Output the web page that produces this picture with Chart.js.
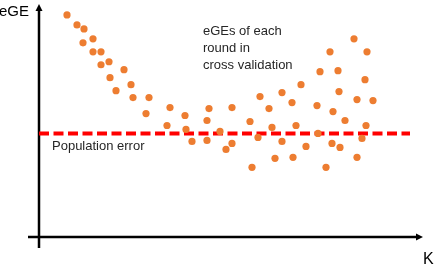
<!DOCTYPE html>
<html>
<head>
<meta charset="utf-8">
<script src="https://cdn.jsdelivr.net/npm/chart.js@4/dist/chart.umd.min.js"></script>
<style>
  html, body { margin: 0; padding: 0; background: #fff; }
  canvas { display: block; }
</style>
</head>
<body>
<canvas id="egeChart" width="436" height="268"></canvas>
<script>
// eGE of each cross-validation round (arbitrary units)
const kValues = [28, 38, 45, 54, 44, 54, 62, 70, 62, 85, 71, 92, 77, 94, 110, 107, 131, 128, 146, 147,
    153, 170, 168, 168, 181, 193, 193, 187, 211, 213, 219, 221, 230, 233, 236, 243, 243, 253, 254, 257,
    262, 267, 278, 279, 281, 287, 291, 293, 294, 299, 300, 301, 306, 315, 318, 318, 323, 326, 327, 328, 334];
const egeValues = [223, 213, 209, 199, 195, 186, 186, 176, 173, 168, 160, 153, 147, 140, 140, 124, 130, 112, 122, 108,
    96, 129, 117, 97, 106, 130, 94, 88, 116, 70, 100, 141, 129, 110, 79, 145, 96, 135, 80, 112,
    153, 91, 132, 104, 166, 70, 186, 94, 126, 167, 146, 90, 117, 199, 138, 80, 99, 158, 112, 186, 137];
const populationError = 104;
const lineRange = [0, 371];

const scatterPoints = kValues.map((k, i) => ({ x: k, y: egeValues[i] }));
const errorLine = lineRange.map(k => ({ x: k, y: populationError }));

// axes with arrow heads, drawn from the chart area
const axesPlugin = {
    id: 'axes',
    beforeDatasetsDraw(chart) {
        const ctx = chart.ctx;
        const a = chart.chartArea;
        ctx.save();
        ctx.strokeStyle = '#000';
        ctx.fillStyle = '#000';
        ctx.lineWidth = 2.5;
        // y axis
        ctx.beginPath();
        ctx.moveTo(a.left, a.bottom + 11);
        ctx.lineTo(a.left, a.top + 5);
        ctx.stroke();
        ctx.beginPath();
        ctx.moveTo(a.left, a.top);
        ctx.lineTo(a.left - 3.5, a.top + 7);
        ctx.lineTo(a.left + 3.5, a.top + 7);
        ctx.closePath();
        ctx.fill();
        // x axis
        ctx.beginPath();
        ctx.moveTo(a.left - 11, a.bottom);
        ctx.lineTo(a.right - 3, a.bottom);
        ctx.stroke();
        ctx.beginPath();
        ctx.moveTo(a.right + 3, a.bottom);
        ctx.lineTo(a.right - 4, a.bottom - 3.5);
        ctx.lineTo(a.right - 4, a.bottom + 3.5);
        ctx.closePath();
        ctx.fill();
        ctx.restore();
    },
    afterDraw(chart) {
        const ctx = chart.ctx;
        const x = chart.scales.x;
        const y = chart.scales.y;
        ctx.save();
        ctx.textBaseline = 'alphabetic';
        ctx.textAlign = 'left';
        ctx.fillStyle = '#000';
        ctx.font = '15px "Liberation Sans", Arial, sans-serif';
        ctx.fillText('eGE', -1, 16);
        ctx.font = '16px "Liberation Sans", Arial, sans-serif';
        ctx.fillText('K', 423, 264);
        ctx.fillStyle = '#262626';
        ctx.font = '13px "Liberation Sans", Arial, sans-serif';
        ['eGEs of each', 'round in', 'cross validation'].forEach((line, i) => {
            ctx.fillText(line, x.getPixelForValue(164), y.getPixelForValue(203) + i * 17);
        });
        ctx.fillText('Population error', x.getPixelForValue(13), y.getPixelForValue(87));
        ctx.restore();
    }
};

new Chart(document.getElementById('egeChart').getContext('2d'), {
    type: 'scatter',
    data: {
        datasets: [{
            label: 'Population error',
            type: 'line',
            data: errorLine,
            borderColor: '#ff0000',
            borderWidth: 4,
            borderDash: [10, 4.5],
            pointRadius: 0,
            fill: false,
            clip: false,
            order: 2
        }, {
            label: 'eGEs of each round',
            data: scatterPoints,
            backgroundColor: '#ed7d31',
            borderWidth: 0,
            pointRadius: 3.6,
            clip: false,
            order: 1
        }]
    },
    options: {
        responsive: false,
        animation: false,
        layout: {
            padding: { left: 39, right: 16, top: 3, bottom: 31 }
        },
        scales: {
            x: { type: 'linear', min: 0, max: 381, display: false },
            y: { type: 'linear', min: 0, max: 234, display: false }
        },
        plugins: {
            legend: { display: false },
            tooltip: { enabled: false }
        }
    },
    plugins: [axesPlugin]
});
</script>
</body>
</html>
